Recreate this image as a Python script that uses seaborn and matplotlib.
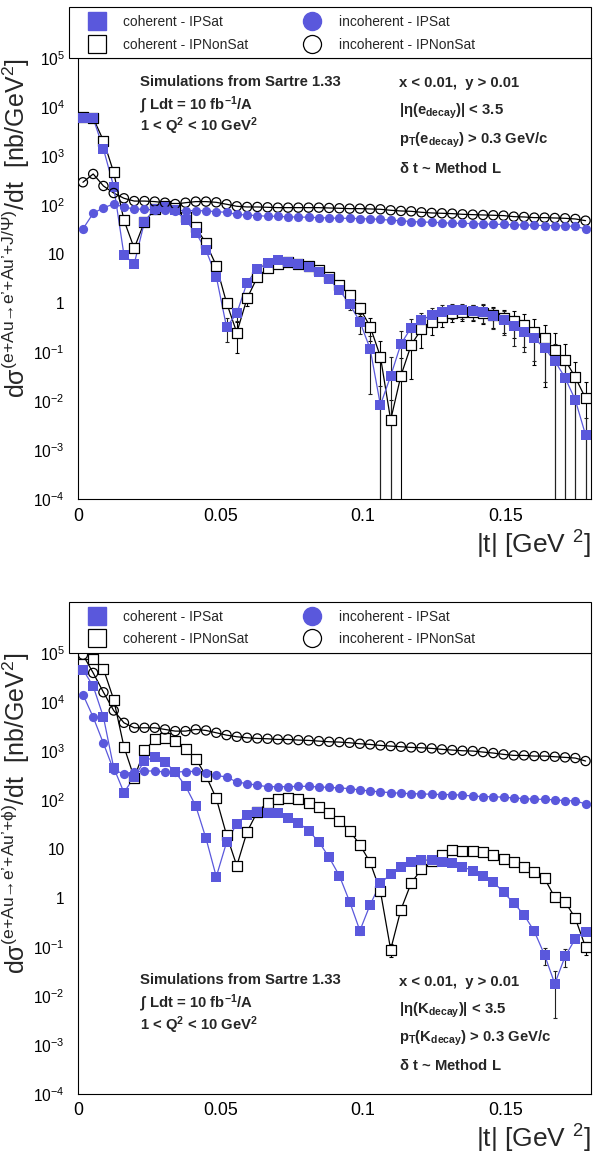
import numpy as np
import pandas as pd
import matplotlib
matplotlib.use("Agg")
import matplotlib.pyplot as plt
import seaborn as sns
from matplotlib import font_manager as fm
from matplotlib.lines import Line2D
from matplotlib.patches import Rectangle
from matplotlib.ticker import FixedLocator, LogLocator, FuncFormatter, NullFormatter, MultipleLocator

# ---------------- data ----------------
t_bins = np.round(np.arange(0.0018, 0.18, 0.0036), 4)   # 50 bin centres, |t| [GeV^2]

# J/psi panel
jpsi_coh_sat = [5970, 5970, 1413, 240, 9.7, 6.35, 46, 84, 94, 80,
                50.2, 27.7, 12.1, 3.5, 0.329, 0.625, 2.64, 5.02, 6.55, 7.66,
                6.98, 6.45, 5.43, 4.3, 3.09, 1.87, 0.955, 0.423, 0.117, 0.0084,
                0.0329, 0.148, 0.318, 0.457, 0.578, 0.676, 0.731, 0.731, 0.70, 0.676,
                0.551, 0.457, 0.344, 0.256, 0.193, 0.121, 0.0666, 0.0304, 0.0106, 0.00206]
jpsi_coh_nonsat = [6200, 6000, 2090, 471, 49.4, 13.3, 46, 83, 98.5, 86.9,
                   56.9, 35.6, 16.8, 5.87, 1.03, 0.252, 1.26, 3.4, 5.18, 6.25,
                   6.87, 6.45, 5.78, 4.79, 3.5, 2.37, 1.48, 0.791, 0.334, 0.0816,
                   0.00416, 0.0334, 0.141, 0.299, 0.423, 0.535, 0.625, 0.676, 0.676, 0.645,
                   0.578, 0.494, 0.443, 0.361, 0.264, 0.193, 0.112, 0.0698, 0.0309, 0.0115]
jpsi_inc_sat = [32.9, 68.7, 89, 106, 92, 84, 83, 80, 79, 78,
                78, 78, 77, 74, 72, 65, 63.5, 61.5, 59.7, 59.7,
                57.8, 57.8, 56.9, 56, 55.1, 54.3, 54.3, 53.4, 52.6, 51.8,
                49.4, 48.6, 46.4, 45.7, 45, 44.3, 42.9, 42.9, 42.3, 41.6,
                40.9, 40.9, 39.7, 39.7, 39.1, 38.5, 38.5, 37.8, 37.2, 32.9]
jpsi_inc_nonsat = [295, 436, 248, 178, 139, 122, 122, 119, 113, 106,
                   113, 119, 119, 115, 105, 95.4, 92.5, 92.5, 91, 89.6,
                   89.6, 89.6, 89.6, 89.6, 88.2, 86.9, 85.5, 85.5, 84.2, 82.9,
                   79.1, 76.6, 75.4, 72, 69.8, 68.7, 67.6, 65.5, 64.5, 63.5,
                   62.6, 61.6, 58.7, 57.8, 56, 56, 55.1, 54.3, 52.6, 48.6]
jpsi_coh_sat_relerr = [0.02, 0.02, 0.02, 0.02, 0.05, 0.05, 0.03, 0.02, 0.02, 0.02,
                       0.03, 0.03, 0.05, 0.15, 0.5, 0.3, 0.15, 0.08, 0.06, 0.06,
                       0.06, 0.06, 0.07, 0.08, 0.1, 0.15, 0.25, 0.45, 0.88, 1.5,
                       1.4, 0.8, 0.5, 0.4, 0.4, 0.35, 0.35, 0.35, 0.35, 0.4,
                       0.45, 0.5, 0.6, 0.6, 0.65, 0.8, 1.2, 1.3, 1.5, 1.2]
jpsi_coh_nonsat_relerr = [0.02, 0.02, 0.02, 0.02, 0.03, 0.05, 0.03, 0.02, 0.02, 0.02,
                          0.03, 0.03, 0.04, 0.1, 0.2, 0.62, 0.3, 0.1, 0.07, 0.06,
                          0.06, 0.06, 0.07, 0.08, 0.1, 0.1, 0.15, 0.3, 0.5, 1.1,
                          1.5, 1.3, 0.8, 0.6, 0.47, 0.4, 0.35, 0.35, 0.35, 0.4,
                          0.45, 0.5, 0.55, 0.65, 0.79, 0.9, 1.2, 1.1, 1.1, 1.2]

# phi panel
phi_coh_sat = [45800, 21000, 4910, 456, 142, 294, 624, 764, 596, 372,
               193, 75.7, 16.4, 2.72, 13.6, 33.1, 49.7, 58.1, 55.4, 53.7,
               42.5, 34.7, 23.5, 14, 6.73, 2.85, 0.84, 0.216, 0.731, 1.99,
               3.08, 4.34, 5.33, 6.03, 5.84, 5.49, 5.16, 4.34, 3.6, 2.76,
               2.15, 1.3, 0.79, 0.451, 0.21, 0.069, 0.0178, 0.064, 0.147, 0.207]
phi_coh_nonsat = [95000, 76700, 47200, 11200, 1220, 286, 1030, 1722, 1862, 1592,
                  1112, 696, 309, 108, 19.4, 4.55, 22.4, 57.2, 88.5, 107,
                  112, 107, 88.5, 73.4, 53.7, 37.5, 23.5, 12.2, 5.33, 1.37,
                  0.0887, 0.579, 2.02, 3.89, 5.75, 7.5, 9.48, 8.9, 8.9, 8.5,
                  7.5, 6.22, 5.49, 4.2, 3.33, 2.51, 1.03, 0.84, 0.386, 0.099]
phi_inc_sat = [14200, 4910, 1430, 403, 344, 372, 391, 391, 372, 372,
               380, 384, 350, 318, 294, 233, 216, 200, 187, 187,
               187, 190, 190, 184, 181, 176, 171, 160, 153, 146,
               141.6, 137, 135, 133, 131, 129, 129, 125, 121, 117,
               117, 114, 110, 107, 103.5, 103.5, 100.3, 97.3, 95.7, 83.2]
phi_inc_nonsat = [92000, 39200, 15800, 6700, 3760, 2978, 2978, 2978, 2754, 2547,
                  2547, 2754, 2625, 2355, 2109, 1951, 1862, 1804, 1778, 1722,
                  1722, 1670, 1644, 1592, 1545, 1520, 1472, 1406, 1361, 1300,
                  1259, 1222, 1183, 1164, 1130, 1079, 1045, 1012, 998, 951,
                  908, 853, 813, 813, 788, 788, 764, 741, 718, 624]
phi_coh_sat_relerr = [0.01, 0.01, 0.01, 0.01, 0.02, 0.02, 0.01, 0.01, 0.01, 0.01,
                      0.01, 0.02, 0.03, 0.08, 0.03, 0.02, 0.02, 0.02, 0.02, 0.02,
                      0.02, 0.02, 0.03, 0.03, 0.05, 0.08, 0.12, 0.2, 0.1, 0.06,
                      0.05, 0.04, 0.04, 0.04, 0.04, 0.04, 0.04, 0.05, 0.05, 0.06,
                      0.06, 0.08, 0.1, 0.12, 0.15, 0.37, 0.8, 0.4, 0.15, 0.12]
phi_coh_nonsat_relerr = [0.01, 0.01, 0.01, 0.01, 0.02, 0.03, 0.01, 0.01, 0.01, 0.01,
                         0.01, 0.01, 0.02, 0.03, 0.06, 0.1, 0.05, 0.03, 0.03, 0.02,
                         0.02, 0.02, 0.02, 0.03, 0.03, 0.04, 0.05, 0.06, 0.08, 0.12,
                         0.3, 0.1, 0.06, 0.05, 0.04, 0.04, 0.03, 0.03, 0.03, 0.04,
                         0.04, 0.05, 0.05, 0.06, 0.07, 0.08, 0.1, 0.12, 0.15, 0.3]

legend_labels = ["coherent - IPSat", "coherent - IPNonSat",
                 "incoherent - IPSat", "incoherent - IPNonSat"]
x_ticks = [0, 0.05, 0.1, 0.15]

# ---------------- style ----------------
sns.set_theme(style="white")
names = {f.name for f in fm.fontManager.ttflist}
BASE = "Liberation Sans" if "Liberation Sans" in names else "DejaVu Sans"
NARROW = "Liberation Sans Narrow" if "Liberation Sans Narrow" in names else BASE
nscale = 1.0 if NARROW != BASE else 0.86
plt.rcParams["font.family"] = [NARROW, "DejaVu Sans"]
plt.rcParams["mathtext.fontset"] = "custom"
plt.rcParams["mathtext.rm"] = BASE
plt.rcParams["mathtext.it"] = BASE + ":italic"
plt.rcParams["mathtext.bf"] = BASE + ":bold"
plt.rcParams["mathtext.default"] = "regular"
plt.rcParams["axes.linewidth"] = 0.8

BLUE = "#5a58dc"

fig = plt.figure(figsize=(5.94, 11.58), dpi=100)
W, H = 594.0, 1158.0
ax_left, ax_right = 77.8, 590.7
ax_top = fig.add_axes([ax_left / W, 1 - 499.3 / H, (ax_right - ax_left) / W, 441 / H])
ax_bot = fig.add_axes([ax_left / W, 1 - 1094.0 / H, (ax_right - ax_left) / W, 441 / H])


def yfmt(v, p):
    e = int(round(np.log10(v)))
    if e == 0:
        return "1"
    if e == 1:
        return "10"
    return r"$10^{%d}$" % e


def panel(ax, coh_sat, coh_non, inc_sat, inc_non, err_sat, err_non, ylabel, left_txt, right_txt):
    ax.set_yscale("log")
    coh_sat = np.array(coh_sat); coh_non = np.array(coh_non)
    df = pd.DataFrame({"t": t_bins, "coh_sat": coh_sat, "coh_non": coh_non,
                       "inc_sat": inc_sat, "inc_non": inc_non})
    # error bars
    ax.errorbar(df.t, df.coh_non, yerr=coh_non * np.array(err_non), fmt="none",
                ecolor="black", elinewidth=0.8, capsize=1.5, capthick=0.8, zorder=1)
    ax.errorbar(df.t, df.coh_sat, yerr=coh_sat * np.array(err_sat), fmt="none",
                ecolor="#222222", elinewidth=0.8, capsize=1.5, capthick=0.8, zorder=1)
    # curves
    for col, c in [("inc_non", "black"), ("inc_sat", BLUE), ("coh_non", "black"), ("coh_sat", BLUE)]:
        sns.lineplot(data=df, x="t", y=col, color=c, lw=0.9, ax=ax, estimator=None,
                     sort=False, legend=False, zorder=2)
    # markers
    sns.scatterplot(data=df, x="t", y="coh_non", marker="s", s=46, color="white",
                    edgecolor="black", linewidth=0.9, ax=ax, zorder=3, legend=False)
    sns.scatterplot(data=df, x="t", y="coh_sat", marker="s", s=46, color=BLUE,
                    edgecolor=BLUE, linewidth=0, ax=ax, zorder=4, legend=False)
    sns.scatterplot(data=df, x="t", y="inc_non", marker="o", s=44, color="none",
                    edgecolor="black", linewidth=0.9, ax=ax, zorder=5, legend=False)
    sns.scatterplot(data=df, x="t", y="inc_sat", marker="o", s=44, color=BLUE,
                    edgecolor=BLUE, linewidth=0, ax=ax, zorder=5, legend=False)

    ax.set_xlim(0, 0.18)
    ax.set_ylim(1e-4, 1e5)
    ax.xaxis.set_major_locator(FixedLocator(x_ticks))
    ax.xaxis.set_minor_locator(MultipleLocator(0.01))
    ax.xaxis.set_major_formatter(FuncFormatter(lambda v, p: f"{v:g}"))
    ax.yaxis.set_major_locator(LogLocator(base=10, numticks=30))
    ax.yaxis.set_minor_locator(LogLocator(base=10, subs=np.arange(2, 10), numticks=30))
    ax.yaxis.set_minor_formatter(NullFormatter())
    ax.yaxis.set_major_formatter(FuncFormatter(yfmt))
    ax.tick_params(which="both", direction="in", top=False, right=False, color="black",
                   width=0.8, labelcolor="black")
    ax.tick_params(axis="x", which="major", length=9.5, pad=6, labelsize=15 * nscale)
    ax.tick_params(axis="x", which="minor", length=5)
    ax.tick_params(axis="y", which="major", length=6.5, pad=9.5, labelsize=13 * nscale)
    ax.tick_params(axis="y", which="minor", length=3.2)
    for s in ax.spines.values():
        s.set_color("black")

    ax.set_xlabel(r"|t| [GeV $^{2}$]", fontsize=19, family=BASE, loc="right")
    ax.xaxis.set_label_coords(1.0, -0.066)
    ax.set_ylabel(ylabel, fontsize=18, family=BASE, loc="top")
    ax.yaxis.set_label_coords(-0.089, 1.0)

    # annotation texts
    for (x, y, s) in left_txt + right_txt:
        ax.text(x, y, s, transform=ax.transAxes, fontsize=12.5 * nscale, fontweight="bold",
                ha="left", va="center")

    # legend box above the axes
    box = Rectangle((-0.0172, 1.0), 1.0172, 0.1156, transform=ax.transAxes, clip_on=False,
                    facecolor="white", edgecolor="black", lw=0.8, zorder=10)
    ax.add_patch(box)
    h_cs = Line2D([], [], marker="s", ls="none", ms=13, mfc=BLUE, mec=BLUE)
    h_cn = Line2D([], [], marker="s", ls="none", ms=13, mfc="white", mec="black", mew=0.9)
    h_is = Line2D([], [], marker="o", ls="none", ms=13, mfc=BLUE, mec=BLUE)
    h_in = Line2D([], [], marker="o", ls="none", ms=13, mfc="none", mec="black", mew=0.9)
    kw = dict(loc="center left", frameon=False, fontsize=11.5 * nscale, handlelength=1.2,
              handletextpad=1.35, labelspacing=0.62, borderpad=0, borderaxespad=0)
    leg1 = ax.legend([h_cs, h_cn], legend_labels[:2], bbox_to_anchor=(0.0205, 1.0566), **kw)
    leg1.set_zorder(11)
    ax.add_artist(leg1)
    leg2 = ax.legend([h_is, h_in], legend_labels[2:], bbox_to_anchor=(0.4415, 1.0566), **kw)
    leg2.set_zorder(11)


panel(ax_top, jpsi_coh_sat, jpsi_coh_nonsat, jpsi_inc_sat, jpsi_inc_nonsat,
      jpsi_coh_sat_relerr, jpsi_coh_nonsat_relerr,
      r"d$\sigma^{(e{+}Au→e’{+}Au’{+}J/\Psi)}$/dt  [nb/GeV$^{2}$]",
      [(0.1207, 0.947, "Simulations from Sartre 1.33"),
       (0.1207, 0.894, r"$\int$ Ldt = 10 fb$^{-1}$/A"),
       (0.1207, 0.845, r"1 < Q$^{2}$ < 10 GeV$^{2}$")],
      [(0.626, 0.9433, "x < 0.01,  y > 0.01"),
       (0.626, 0.8789, r"|$\eta$(e$_{decay}$)| < 3.5"),
       (0.626, 0.8147, r"p$_{T}$(e$_{decay}$) > 0.3 GeV/c"),
       (0.626, 0.7506, r"$\delta$ t ~ Method L")])

panel(ax_bot, phi_coh_sat, phi_coh_nonsat, phi_inc_sat, phi_inc_nonsat,
      phi_coh_sat_relerr, phi_coh_nonsat_relerr,
      r"d$\sigma^{(e{+}Au→e’{+}Au’{+}\phi)}$/dt  [nb/GeV$^{2}$]",
      [(0.1207, 0.2585, "Simulations from Sartre 1.33"),
       (0.1207, 0.2057, r"$\int$ Ldt = 10 fb$^{-1}$/A"),
       (0.1207, 0.1565, r"1 < Q$^{2}$ < 10 GeV$^{2}$")],
      [(0.626, 0.2546, "x < 0.01,  y > 0.01"),
       (0.626, 0.1905, r"|$\eta$(K$_{decay}$)| < 3.5"),
       (0.626, 0.1263, r"p$_{T}$(K$_{decay}$) > 0.3 GeV/c"),
       (0.626, 0.0635, r"$\delta$ t ~ Method L")])

fig.savefig("out.png", dpi=100, facecolor="white")
